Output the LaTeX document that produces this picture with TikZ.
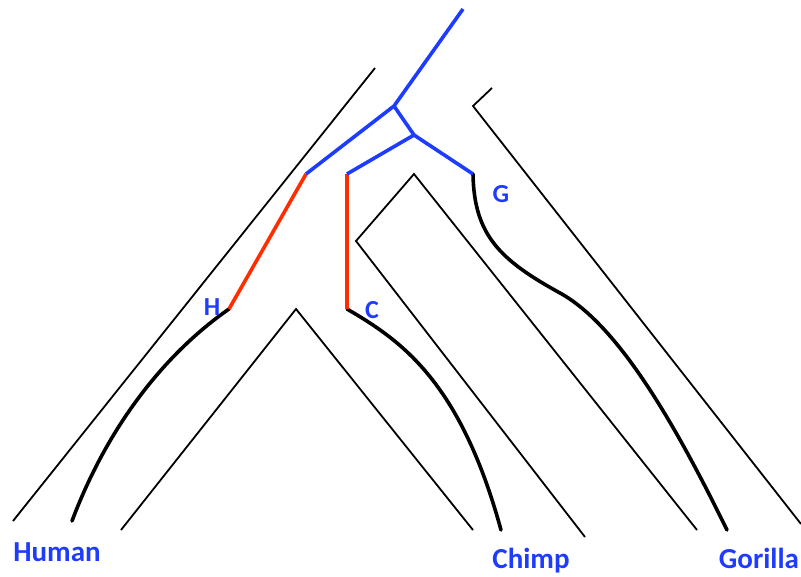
\documentclass[tikz,border=0pt]{standalone}
\usepackage{fontspec}
\setmainfont{Carlito}
\definecolor{genecol}{RGB}{30,60,255}
\definecolor{mutcol}{RGB}{255,45,0}
\begin{document}
\begin{tikzpicture}[x=1pt,y=-1pt,
  outline/.style={black,line width=1.8pt},
  lineage/.style={black,line width=3.6pt,line cap=round},
  genetree/.style={genecol,line width=3.6pt,line join=round},
  mutation/.style={mutcol,line width=3.6pt},
  taxon/.style={genecol,font=\fontsize{29}{30}\selectfont\bfseries,inner sep=0pt,anchor=base},
  tip/.style={genecol,font=\fontsize{26}{27}\selectfont\bfseries,inner sep=0pt}]
\useasboundingbox (0,0) rectangle (801,576);

% species tree outline
\draw[outline] (375,68) -- (13,521);
\draw[outline] (121,530) -- (296,309) -- (473,530);
\draw[outline] (585,537) -- (356,241) -- (414,174) -- (697,530);
\draw[outline] (492,88) -- (473,106) -- (801,524);

% gene tree junctions
\coordinate (top) at (463,9);
\coordinate (root) at (394,106);
\coordinate (split) at (414,135);
\coordinate (hs) at (306,174);
\coordinate (cs) at (347,174);
\coordinate (gs) at (473,174);
\coordinate (h) at (229,309);
\coordinate (c) at (347,309);
\coordinate (hend) at (72,521);
\coordinate (cend) at (501,530);
\coordinate (gend) at (727,530);

% lineages inside the species branches
\draw[lineage] (h) .. controls (170,350) and (110,420) .. (hend);
\draw[lineage] (c) .. controls (400,340) and (460,380) .. (cend);
\draw[lineage] (gs) .. controls (474,235) and (500,260) .. (560,293)
                    .. controls (620,326) and (678,430) .. (gend);

% mutated segments
\draw[mutation] (hs) -- (h);
\draw[mutation] (cs) -- (c);

% gene tree
\draw[genetree] (top) -- (root) -- (hs);
\draw[genetree] (root) -- (split);
\draw[genetree] (cs) -- (split) -- (gs);

% labels
\node[tip] (lh) at (212,307) {H};
\node[tip] (lc) at (372,310) {C};
\node[tip] (lg) at (501,194) {G};
\node[taxon] (human) at (57,561) {Human};
\node[taxon] (chimp) at (531,568) {Chimp};
\node[taxon] (gorilla) at (759,568) {Gorilla};
\end{tikzpicture}
\end{document}
